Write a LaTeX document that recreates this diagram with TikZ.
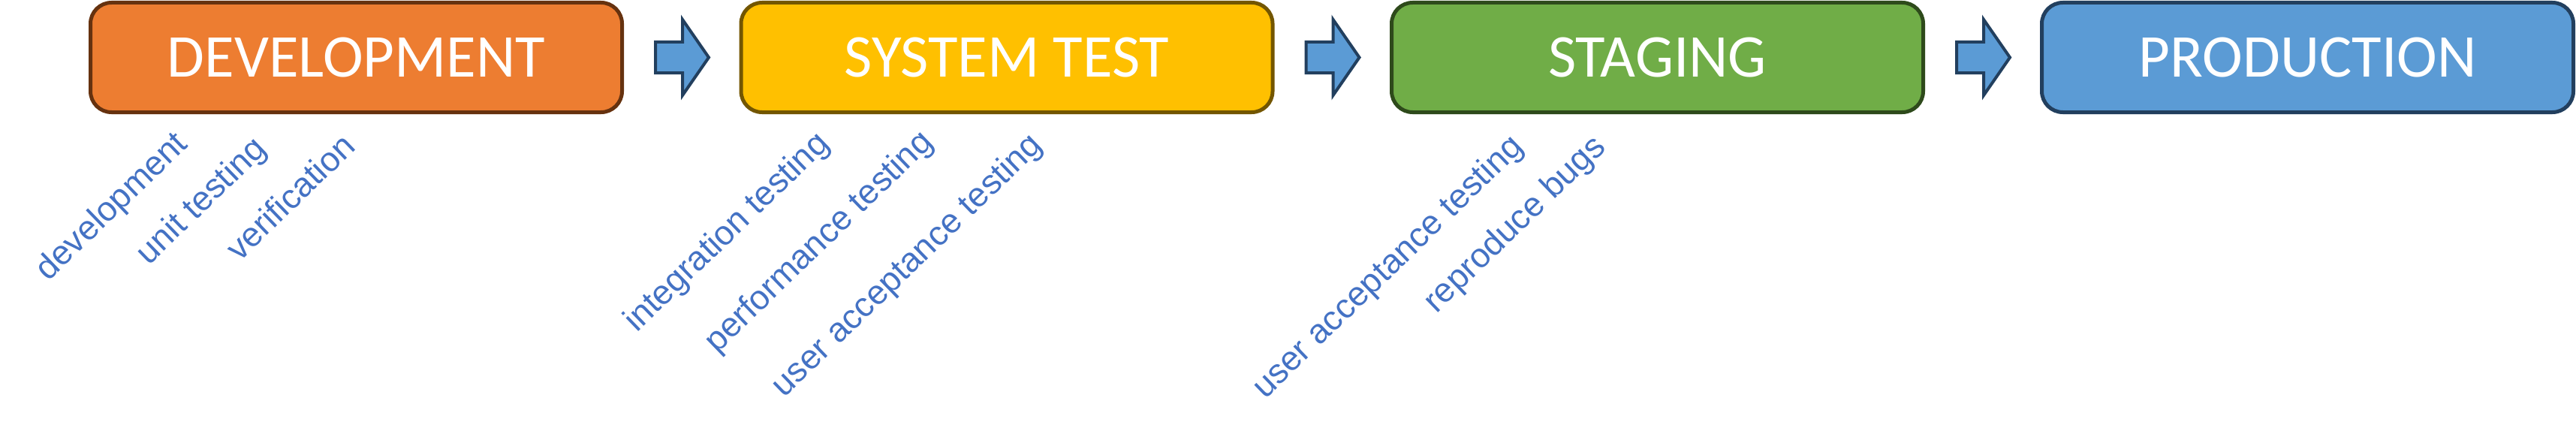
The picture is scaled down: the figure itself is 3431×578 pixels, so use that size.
\documentclass[tikz,border=0pt]{standalone}
\usepackage{fontspec}
\usetikzlibrary{calc}
\setmainfont{Liberation Sans}
\newfontfamily\boxfont{Carlito}
\definecolor{cOrange}{HTML}{ED7D31}
\definecolor{cOrangeB}{HTML}{66320F}
\definecolor{cYellow}{HTML}{FFC000}
\definecolor{cYellowB}{HTML}{735600}
\definecolor{cGreen}{HTML}{70AD47}
\definecolor{cGreenB}{HTML}{2E4A1B}
\definecolor{cBlue}{HTML}{5B9BD5}
\definecolor{cBlueB}{HTML}{223F5E}
\definecolor{cLabel}{HTML}{4472C4}
\tikzset{
  stagebox/.style={draw, rounded corners=28pt, line width=5pt, minimum width=708pt,
    minimum height=146pt, inner sep=0pt, outer sep=0pt, text=white,
    font=\boxfont\fontsize{81}{97}\selectfont},
  blockarrow/.style={fill=cBlue, draw=cBlueB, line width=4pt, line join=miter},
  activity/.style={anchor=base west, rotate=44, inner sep=0pt, outer sep=0pt, text=cLabel,
    font=\fontsize{45.5}{55}\selectfont}
}
\begin{document}
\begin{tikzpicture}[x=1pt,y=-1pt]
\useasboundingbox (0,0) rectangle (3431,578);
\node[stagebox, fill=cOrange, draw=cOrangeB] (dev) at (474.5,76.5) {DEVELOPMENT};
\node[stagebox, fill=cYellow, draw=cYellowB] (sys) at (1341,76.5) {SYSTEM TEST};
\node[stagebox, fill=cGreen, draw=cGreenB] (stg) at (2207.5,76.5) {STAGING};
\node[stagebox, fill=cBlue, draw=cBlueB] (prd) at (3073.5,76.5) {PRODUCTION};
\foreach \a/\b in {dev/sys, sys/stg, stg/prd}{
  \coordinate (s-\a) at ($(\a.east)+(44.5,0)$);
  \draw[blockarrow] ($(s-\a)+(0,-20.5)$) -- ($(s-\a)+(36,-20.5)$) -- ($(s-\a)+(36,-50.5)$)
    -- ($(s-\a)+(71,0)$) -- ($(s-\a)+(36,50.5)$) -- ($(s-\a)+(36,20.5)$)
    -- ($(s-\a)+(0,20.5)$) -- cycle;
}
\node[activity] (a1) at (64.5,375.5) {development};
\node[activity] (a2) at (198.5,354) {unit testing};
\node[activity] (a3) at (319,349) {verification};
\node[activity] (a4) at (848,443.5) {integration testing};
\node[activity] (a5) at (955,471.5) {performance testing};
\node[activity] (a6) at (1044.5,530) {user acceptance testing};
\node[activity] (a7) at (1685,532) {user acceptance testing};
\node[activity] (a8) at (1913,418) {reproduce bugs};
\end{tikzpicture}
\end{document}
